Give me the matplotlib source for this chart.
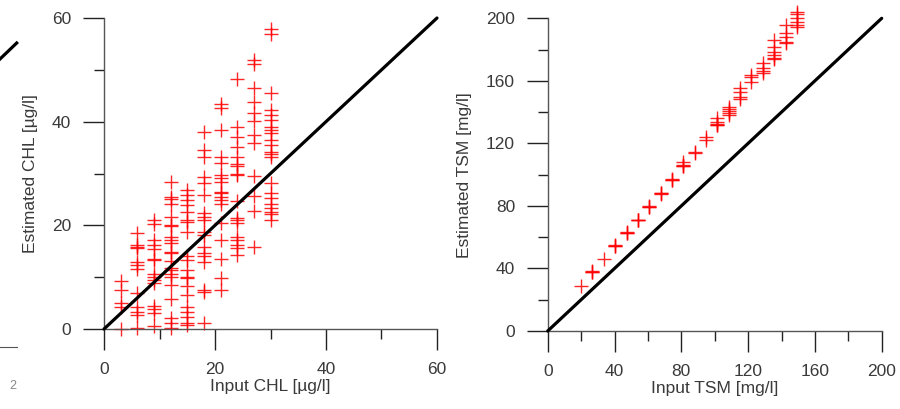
import numpy as np
import matplotlib
matplotlib.use("Agg")
import matplotlib.pyplot as plt
from matplotlib.ticker import MultipleLocator

plt.rcParams["font.family"] = ["Liberation Sans", "DejaVu Sans"]

RED = "#ff0000"
TXT = "#3a3a3a"
AXC = "#555555"

# CHL retrieval: input concentration levels and the estimates at each level
CHL_INPUT = [3, 6, 9, 12, 15, 18, 21, 24, 27, 30]
CHL_EST = [
    [9.2, 7.6, 5.0, 4.2, 0.0],
    [18.5, 16.2, 15.9, 15.6, 13.0, 12.3, 11.5, 6.9, 4.3, 3.3, 2.7, 0.1],
    [21.0, 20.3, 17.2, 16.2, 15.4, 13.6, 13.4, 10.7, 10.1, 9.5, 8.8, 4.4, 3.8, 3.0, 0.5],
    [28.4, 25.5, 25.0, 24.2, 21.7, 20.1, 19.9, 17.7, 17.2, 16.5, 14.9, 14.6, 13.2,
     11.7, 11.4, 10.6, 10.0, 8.5, 5.8, 2.1, 1.1, 0.1],
    [26.9, 25.9, 24.9, 23.9, 22.6, 21.0, 20.7, 18.8, 14.0, 13.3, 11.4, 10.1, 9.8,
     8.2, 6.6, 4.3, 3.3, 2.4, 1.1, 0.8],
    [38.1, 34.5, 33.2, 29.3, 28.1, 25.9, 22.4, 21.7, 21.0, 18.8, 18.1, 15.9, 14.6,
     14.0, 13.0, 7.5, 7.2, 1.2],
    [43.4, 42.6, 38.4, 33.2, 32.0, 29.7, 29.1, 28.4, 26.5, 26.2, 25.5, 24.9, 24.2,
     20.4, 17.2, 13.6, 9.8, 7.5],
    [48.2, 39.0, 37.1, 35.2, 33.2, 31.8, 31.5, 30.0, 29.7, 24.6, 21.4, 21.0, 20.4,
     17.8, 17.2, 16.2, 15.6, 14.3],
    [51.9, 51.1, 46.4, 43.7, 41.7, 40.2, 37.4, 35.8, 29.5, 25.7, 22.8, 15.8],
    [57.8, 57.0, 45.5, 42.3, 41.3, 40.3, 38.9, 38.3, 37.9, 36.5, 35.5, 34.2, 33.8,
     33.2, 28.1, 26.3, 25.2, 24.1, 23.3, 22.6, 22.2, 21.0],
]

# TSM retrieval
TSM_INPUT = [20.0, 26.8, 33.6, 40.4, 47.2, 54.0, 60.8, 67.6, 74.4, 81.2,
             88.0, 94.8, 101.6, 108.4, 115.2, 122.0, 128.8, 135.6, 142.4, 149.2]
TSM_EST = [
    [29.0],
    [37.6, 38.0, 38.3],
    [46.1],
    [54.1, 54.4, 54.7],
    [62.6, 62.9, 63.2],
    [70.7, 71.0, 71.3],
    [79.2, 79.5, 79.8],
    [87.8, 88.1, 88.4],
    [96.3, 96.6, 96.9],
    [105.5, 105.8, 106.1, 108.3],
    [113.6, 114.7],
    [122.2, 124.3],
    [131.5, 131.8, 132.1, 133.9, 136.0],
    [138.2, 139.5, 141.0, 142.2, 143.5],
    [148.2, 149.9, 153.1, 155.2],
    [159.5, 162.7, 163.8],
    [165.3, 166.3, 168.0, 171.2],
    [173.8, 174.4, 176.5, 178.7, 181.9, 186.1],
    [184.4, 185.1, 188.3, 190.4, 195.7],
    [194.7, 195.7, 197.9, 200.0, 202.8, 204.3],
]

W, H = 900, 409


def px_axes(fig, x0, y0, x1, y1):
    # axes placed by pixel box (left, top, right, bottom), y measured from top
    return fig.add_axes([x0 / W, (H - y1) / H, (x1 - x0) / W, (y1 - y0) / H])


def style(ax, lim, major, minor, xlabel, ylabel):
    ax.set_xlim(0, lim)
    ax.set_ylim(0, lim)
    for s in ("top", "right"):
        ax.spines[s].set_visible(False)
    for s in ("left", "bottom"):
        ax.spines[s].set_color(AXC)
        ax.spines[s].set_linewidth(1.0)
    ax.xaxis.set_major_locator(MultipleLocator(major))
    ax.yaxis.set_major_locator(MultipleLocator(major))
    ax.xaxis.set_minor_locator(MultipleLocator(minor))
    ax.yaxis.set_minor_locator(MultipleLocator(minor))
    ax.tick_params(which="major", direction="out", length=15, width=1.0,
                   color="#222222", labelsize=12.5, labelcolor=TXT, pad=8.5)
    ax.tick_params(which="minor", direction="out", length=7.5, width=1.0,
                   color="#222222")
    ax.set_xlabel(xlabel, fontsize=12.5, color=TXT, labelpad=2)
    ax.set_ylabel(ylabel, fontsize=12.5, color=TXT, labelpad=10)
    ax.plot([0, lim], [0, lim], color="black", lw=2.3, solid_capstyle="round",
            zorder=3, clip_on=False)


def scatter_columns(ax, xs, cols):
    for x, ys in zip(xs, cols):
        ax.plot([x] * len(ys), ys, ls="none", marker="+", ms=10, mew=1.0,
                color=RED, alpha=0.85, clip_on=False, zorder=2)


fig = plt.figure(figsize=(W / 100, H / 100), dpi=100)

# right end of the neighbouring panel, cut by the figure edge
axn = px_axes(fig, -300, 43, 16.7, 346.7)
axn.set_xlim(0, 1)
axn.set_ylim(0, 1)
axn.plot([0, 1], [0, 1], color="black", lw=2.3, clip_on=False)
for s in ("top", "right", "left"):
    axn.spines[s].set_visible(False)
axn.spines["bottom"].set_color(AXC)
axn.set_xticks([])
axn.set_yticks([])
fig.text(13 / W, (H - 386) / H, "2", fontsize=9, color="#888888",
         ha="center", va="center")

ax1 = px_axes(fig, 104, 18, 437, 329)
style(ax1, 60, 20, 10, "Input CHL [µg/l]", "Estimated CHL [µg/l]")
scatter_columns(ax1, CHL_INPUT, CHL_EST)

ax2 = px_axes(fig, 547.7, 18.3, 881.7, 331)
style(ax2, 200, 40, 20, "Input TSM [mg/l]", "Estimated TSM [mg/l]")
scatter_columns(ax2, TSM_INPUT, TSM_EST)

fig.savefig("out.png", dpi=100, facecolor="white")
